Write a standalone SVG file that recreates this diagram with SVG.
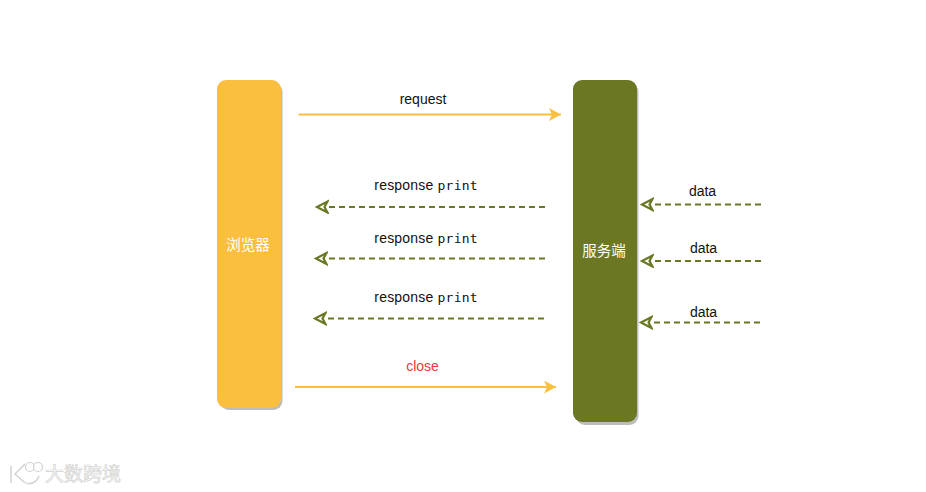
<svg xmlns="http://www.w3.org/2000/svg" width="926" height="492" viewBox="0 0 926 492">
<style>
.shadow{fill:#bdbdbd}
.t{font-family:"Liberation Sans","Noto Sans CJK SC",sans-serif;font-size:14px;fill:#111;text-anchor:middle}
.r{letter-spacing:.2px}
.m{font-family:"DejaVu Sans Mono",monospace;font-size:13px}
.n{font-family:"Noto Sans CJK SC","Liberation Sans",sans-serif;font-size:14.500px;fill:#fff;text-anchor:middle}
.solid{fill:none;stroke:#fbbf40;stroke-width:2}
.dash{fill:none;stroke:#6c7724;stroke-width:2;stroke-dasharray:6 4}
.wm{font-family:"Noto Sans CJK SC",sans-serif;font-size:19px;fill:#fff;stroke:#d2d2d2;stroke-width:.7}
</style>
<defs>
<marker id="a" markerUnits="userSpaceOnUse" markerWidth="14" markerHeight="14" refX="12" refY="6.500" orient="auto"><path d="M0 0L12 6.500L0 13L3 6.500Z" fill="#fbbf40"/></marker>
<marker id="d" markerUnits="userSpaceOnUse" markerWidth="16" markerHeight="16" refX="13" refY="7" orient="auto"><path d="M1.500 1.500L12 7L1.500 12.500L4.500 7Z" fill="#fff" stroke="#6c7724" stroke-width="2.200"/></marker>
</defs>
<rect width="926" height="492" fill="#fff"/>
<g id="browser">
<rect class="shadow" x="220" y="83" width="62.500" height="327" rx="9"/>
<rect x="217" y="80" width="64" height="328" rx="9" fill="#fbbf40"/>
<text class="n" x="248" y="250">浏览器</text>
</g>
<g id="server">
<rect class="shadow" x="576" y="83" width="62.500" height="342" rx="9"/>
<rect x="573" y="80" width="64" height="342" rx="9" fill="#6c7724"/>
<text class="n" x="604" y="256">服务端</text>
</g>
<g id="connectors">
<path class="solid" d="M298.500 114.500H561" marker-end="url(#a)"/>
<path class="solid" d="M295 387H556" marker-end="url(#a)"/>
<path class="dash" d="M545 207H316" marker-end="url(#d)"/>
<path class="dash" d="M545 258.500H315" marker-end="url(#d)"/>
<path class="dash" d="M544 318.500H314" marker-end="url(#d)"/>
<path class="dash" d="M761 204.500H641" marker-end="url(#d)"/>
<path class="dash" d="M761 261H641" marker-end="url(#d)"/>
<path class="dash" d="M760 322.500H640" marker-end="url(#d)"/>
</g>
<g id="labels">
<text class="t" x="423" y="104">request</text>
<text class="t r" x="426" y="190">response <tspan class="m">print</tspan></text>
<text class="t r" x="426" y="243">response <tspan class="m">print</tspan></text>
<text class="t r" x="426" y="302">response <tspan class="m">print</tspan></text>
<text class="t" x="422.500" y="371" style="fill:#e8393a">close</text>
<text class="t" x="702.500" y="196">data</text>
<text class="t" x="703.500" y="253">data</text>
<text class="t" x="703.500" y="317">data</text>
</g>
<g id="watermark">
<path d="M11 466V483M25 464L15 474L24 482C30 486 37 482 39 476" fill="none" stroke="#fff" stroke-width="5"/>
<path d="M11 466V483M25 464L15 474L24 482C30 486 37 482 39 476" fill="none" stroke="#d2d2d2" stroke-width="1.500"/>
<circle cx="30" cy="467" r="4.500" fill="#fff" stroke="#d2d2d2" stroke-width="1.200"/>
<circle cx="38" cy="467" r="4.500" fill="#fff" stroke="#d2d2d2" stroke-width="1.200"/>
<text class="wm" x="45" y="481">大数跨境</text>
</g>
</svg>
